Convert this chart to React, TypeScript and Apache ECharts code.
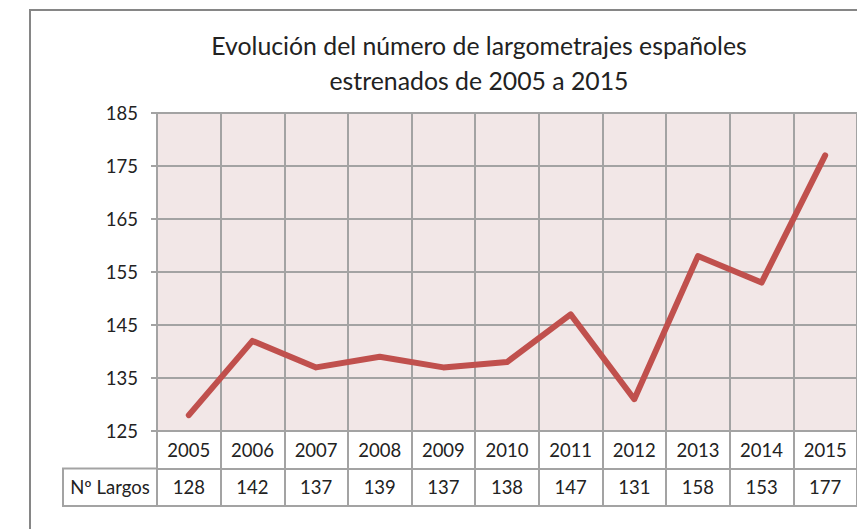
import React, { useEffect, useRef } from "react";
import * as echarts from "echarts";

const years = ["2005", "2006", "2007", "2008", "2009", "2010", "2011", "2012", "2013", "2014", "2015"];
const largos = [128, 142, 137, 139, 137, 138, 147, 131, 158, 153, 177];
const yTickLabels = [125, 135, 145, 155, 165, 175, 185];
const titleLines = ["Evolución del número de largometrajes españoles", "estrenados de 2005 a 2015"];
const rowLabel = "Nº Largos";

const FONT = "Lato, 'Open Sans', sans-serif";
const GRID = "#a3a3a3";
const TEXT = "#222222";
const FS = 18.5;

export default function App() {
  const ref = useRef<HTMLDivElement>(null);
  useEffect(() => {
    document.body.style.margin = "0";
    const chart = echarts.init(ref.current!, null, { renderer: "svg" });
    const yMin = yTickLabels[0];
    const yMax = yTickLabels[yTickLabels.length - 1];
    const step = yTickLabels[1] - yTickLabels[0];
    chart.setOption({
      animation: false,
      backgroundColor: "#ffffff",
      textStyle: { fontFamily: FONT },
      grid: [
        { left: 157, top: 113, width: 704, height: 318, show: true, backgroundColor: "#f2e7e7", borderWidth: 0 },
        { left: 157, top: 431, width: 704, height: 75, show: false },
      ],
      xAxis: [
        {
          type: "category",
          gridIndex: 0,
          data: years,
          boundaryGap: true,
          axisLine: { show: true, lineStyle: { color: GRID, width: 2 } },
          axisTick: { show: false },
          axisLabel: { fontSize: FS, color: TEXT, fontFamily: FONT, margin: 19, verticalAlign: "middle", lineHeight: 22, interval: 0 },
          splitLine: { show: true, lineStyle: { color: GRID, width: 2 } },
        },
        {
          type: "category",
          gridIndex: 1,
          data: years,
          boundaryGap: true,
          position: "bottom",
          axisLine: { show: true, lineStyle: { color: GRID, width: 2 } },
          axisTick: { show: false },
          axisLabel: {
            inside: true,
            fontSize: FS,
            color: TEXT,
            fontFamily: FONT,
            margin: 19,
            verticalAlign: "middle",
            lineHeight: 22,
            interval: 0,
            formatter: (_v: string, i: number) => String(largos[i]),
          },
          splitLine: { show: true, lineStyle: { color: GRID, width: 2 } },
        },
      ],
      yAxis: [
        {
          type: "value",
          gridIndex: 0,
          min: 0,
          max: yMax - yMin,
          interval: step,
          axisLine: { show: true, lineStyle: { color: GRID, width: 2 } },
          axisTick: { show: true, length: 6, lineStyle: { color: GRID, width: 2 } },
          axisLabel: { fontSize: FS, color: TEXT, fontFamily: FONT, margin: 19, formatter: (v: number) => String(v + yMin) },
          splitLine: { show: true, lineStyle: { color: GRID, width: 2 } },
        },
        {
          type: "value",
          gridIndex: 1,
          min: 0,
          max: 2,
          interval: 1,
          axisLine: { show: true, lineStyle: { color: GRID, width: 2 } },
          axisTick: { show: false },
          axisLabel: { show: false },
          splitLine: { show: true, lineStyle: { color: GRID, width: 2 } },
        },
      ],
      series: [
        {
          type: "line",
          xAxisIndex: 0,
          yAxisIndex: 0,
          data: largos.map((v) => v - yMin),
          symbol: "none",
          lineStyle: { color: "#c0504d", width: 6, cap: "round", join: "round" },
          z: 5,
        },
      ],
      graphic: [
        { type: "rect", shape: { x: 30, y: 10, width: 900, height: 600 }, style: { fill: "none", stroke: "#868686", lineWidth: 2 }, z: 10 },
        { type: "rect", shape: { x: 63, y: 468.5, width: 94, height: 37.5 }, style: { fill: "none", stroke: GRID, lineWidth: 2 }, z: 10 },
        { type: "text", x: 110, y: 487, style: { text: rowLabel, fontSize: FS, fontFamily: FONT, fill: TEXT, align: "center", verticalAlign: "middle" }, z: 10 },
        { type: "text", x: 479, y: 45, style: { text: titleLines[0], fontSize: 24.8, fontFamily: FONT, fill: TEXT, align: "center", verticalAlign: "middle" }, z: 10 },
        { type: "text", x: 479, y: 80, style: { text: titleLines[1], fontSize: 24.8, fontFamily: FONT, fill: TEXT, align: "center", verticalAlign: "middle" }, z: 10 },
      ],
    });
    return () => chart.dispose();
  }, []);
  return <div ref={ref} style={{ position: "absolute", left: 0, top: 0, width: 857, height: 529 }} />;
}
